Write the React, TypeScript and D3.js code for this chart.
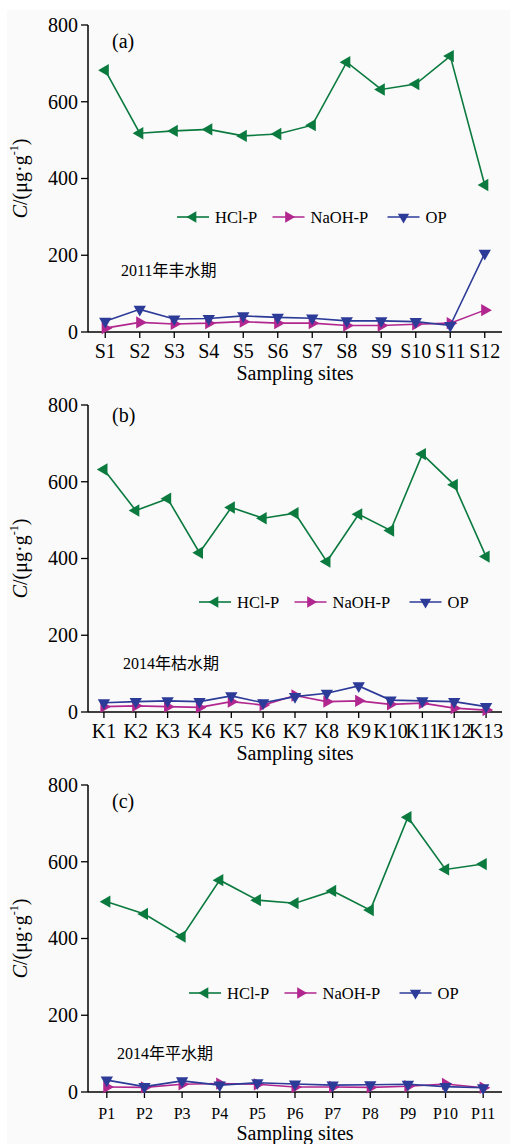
import React from 'react';
import * as d3 from 'd3';

// ---------- data ----------
const sitesA = ['S1', 'S2', 'S3', 'S4', 'S5', 'S6', 'S7', 'S8', 'S9', 'S10', 'S11', 'S12'];
const hclA = [682, 518, 524, 528, 511, 516, 539, 703, 632, 646, 719, 383];
const naohA = [10, 25, 21, 23, 27, 23, 23, 17, 17, 20, 23, 57];
const opA = [28, 59, 34, 35, 42, 38, 36, 29, 29, 27, 17, 205];

const sitesB = ['K1', 'K2', 'K3', 'K4', 'K5', 'K6', 'K7', 'K8', 'K9', 'K10', 'K11', 'K12', 'K13'];
const hclB = [632, 525, 556, 415, 533, 505, 518, 392, 515, 473, 672, 592, 405];
const naohB = [14, 16, 14, 12, 27, 18, 43, 27, 29, 20, 23, 10, 5];
const opB = [24, 27, 29, 27, 42, 24, 40, 49, 68, 31, 29, 27, 14];

const sitesC = ['P1', 'P2', 'P3', 'P4', 'P5', 'P6', 'P7', 'P8', 'P9', 'P10', 'P11'];
const hclC = [496, 464, 405, 552, 500, 492, 524, 474, 716, 580, 594];
const naohC = [13, 12, 20, 22, 20, 13, 13, 12, 15, 21, 11];
const opC = [31, 14, 29, 18, 24, 21, 18, 19, 20, 14, 11];

const yTicks = [0, 200, 400, 600, 800];
const seriesNames = ['HCl-P', 'NaOH-P', 'OP'];

// ---------- styles ----------
const GREEN = '#0b7a3f';
const MAGENTA = '#b1278f';
const BLUE = '#2c3a98';
const colors = [GREEN, MAGENTA, BLUE];
const rotations = [-90, 90, 180];
const FONT = '"Liberation Serif", "Times New Roman", "Noto Sans CJK SC", serif';

const tri = d3.symbol().type(d3.symbolTriangle).size(66)();
const triLegend = d3.symbol().type(d3.symbolTriangle).size(56)();

type PanelProps = {
  top: number;
  cats: string[];
  series: number[][];
  label: string;
  note: string;
  noteX: number;
  noteY: number;
  labelY: number;
  legendX: number;
  legendY: number;
  tickFont: number;
  tickDy: number;
};

function Panel(p: PanelProps) {
  const y0 = 332 + p.top;
  const y = d3.scaleLinear().domain([0, 800]).range([y0, y0 - 307]);
  const x = d3.scalePoint<string>().domain(p.cats).range([88, 502]).padding(0.5);
  const line = d3
    .line<number>()
    .x((_, i) => x(p.cats[i]) as number)
    .y((d) => y(d));
  const legendOffsets = [0, 95.5, 210.5];
  return (
    <g>
      {/* axes */}
      <line x1={88} x2={88} y1={y(800)} y2={y0} stroke="#000" strokeWidth={1.5} />
      <line x1={88} x2={502} y1={y0} y2={y0} stroke="#000" strokeWidth={1.5} />
      {yTicks.map((t) => (
        <g key={t}>
          <line x1={81} x2={88} y1={y(t)} y2={y(t)} stroke="#000" strokeWidth={1.3} />
          <text x={78} y={y(t)} dy="0.34em" textAnchor="end" fontSize={20} fontFamily={FONT}>
            {t}
          </text>
        </g>
      ))}
      {p.cats.map((c) => (
        <g key={c}>
          <line x1={x(c)} x2={x(c)} y1={y0} y2={y0 + 6} stroke="#000" strokeWidth={1.3} />
          <text x={x(c)} y={y0 + p.tickDy} textAnchor="middle" fontSize={p.tickFont} fontFamily={FONT}>
            {c}
          </text>
        </g>
      ))}
      <text x={295} y={y0 + 48} textAnchor="middle" fontSize={20} fontFamily={FONT}>
        Sampling sites
      </text>
      <text
        transform={`translate(27,${(y(800) + y0) / 2}) rotate(-90)`}
        textAnchor="middle"
        fontSize={20}
        fontFamily={FONT}
      >
        <tspan fontStyle="italic">C</tspan>
        <tspan>/(μg·g</tspan>
        <tspan fontSize={12} dy={-9}>-1</tspan>
        <tspan dy={9}>)</tspan>
      </text>
      <text x={112} y={p.top + p.labelY} fontSize={20} fontFamily={FONT}>
        {p.label}
      </text>
      <text x={p.noteX} y={p.top + p.noteY} dy="0.35em" fontSize={16} fontFamily={FONT}>
        {p.note}
      </text>
      {/* series */}
      {p.series.map((vals, si) => (
        <g key={si}>
          <path d={line(vals) || ''} fill="none" stroke={colors[si]} strokeWidth={1.6} />
          {vals.map((v, i) => (
            <path
              key={i}
              d={tri || ''}
              fill={colors[si]}
              transform={`translate(${x(p.cats[i])},${y(v)}) rotate(${rotations[si]})`}
            />
          ))}
        </g>
      ))}
      {/* legend */}
      {seriesNames.map((n, si) => {
        const lx = p.legendX + legendOffsets[si];
        const ly = p.top + p.legendY;
        return (
          <g key={n}>
            <line x1={lx} x2={lx + 32} y1={ly} y2={ly} stroke={colors[si]} strokeWidth={1.6} />
            <path d={triLegend || ''} fill={colors[si]} transform={`translate(${lx + 16},${ly}) rotate(${rotations[si]})`} />
            <text x={lx + 38} y={ly} dy="0.34em" fontSize={16.5} fontFamily={FONT}>
              {n}
            </text>
          </g>
        );
      })}
    </g>
  );
}

export default function App() {
  return (
    <div style={{ position: 'absolute', left: 0, top: 0 }}>
      <svg width={510} height={1144} style={{ display: 'block' }}>
        <rect x={0} y={0} width={510} height={1144} fill="#fff" />
        <rect x={7} y={10} width={503} height={1134} fill="#fafafa" />
        <Panel
          top={0}
          cats={sitesA}
          series={[hclA, naohA, opA]}
          label="(a)"
          note="2011年丰水期"
          noteX={121}
          noteY={270}
          labelY={48}
          legendX={177}
          legendY={217}
          tickFont={20}
          tickDy={26}
        />
        <Panel
          top={380}
          cats={sitesB}
          series={[hclB, naohB, opB]}
          label="(b)"
          note="2014年枯水期"
          noteX={123}
          noteY={283}
          labelY={42}
          legendX={199}
          legendY={222}
          tickFont={20}
          tickDy={26}
        />
        <Panel
          top={760}
          cats={sitesC}
          series={[hclC, naohC, opC]}
          label="(c)"
          note="2014年平水期"
          noteX={117}
          noteY={293}
          labelY={48}
          legendX={189}
          legendY={233}
          tickFont={16}
          tickDy={27}
        />
      </svg>
    </div>
  );
}
